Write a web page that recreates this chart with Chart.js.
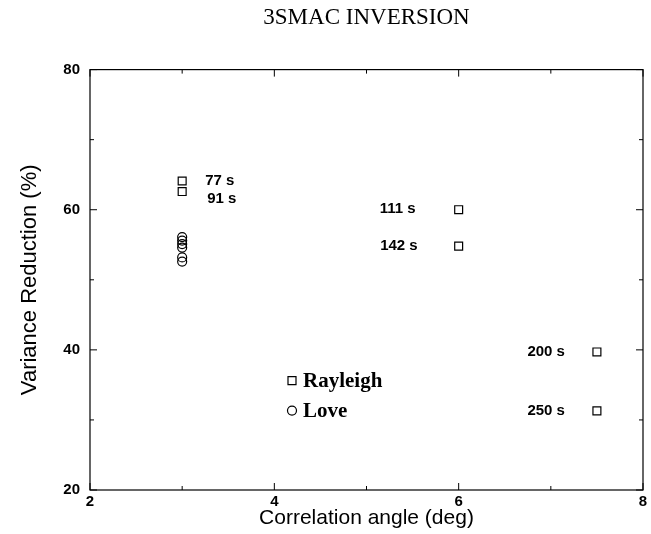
<!DOCTYPE html>
<html>
<head>
<meta charset="utf-8">
<title>3SMAC INVERSION</title>
<script src="https://cdn.jsdelivr.net/npm/chart.js@4.4.1/dist/chart.umd.min.js"></script>
<style>
  html, body { margin: 0; padding: 0; background: #fff; }
  #chart { display: block; }
</style>
</head>
<body>
<canvas id="chart" width="651" height="534"></canvas>
<script>
// ---------------------------------------------------------------------------
// Data
// ---------------------------------------------------------------------------
const rayleighAngle = [3, 3, 6, 6, 7.5, 7.5];
const rayleighVR    = [64.1, 62.6, 60.0, 54.8, 39.7, 31.3];
const rayleighTags  = ['77 s', '91 s', '111 s', '142 s', '200 s', '250 s'];

const loveAngle = [3, 3, 3, 3, 3, 3];
const loveVR    = [56.1, 55.6, 55.1, 54.6, 53.2, 52.6];

const xTicks = [2, 4, 6, 8];
const yTicks = [20, 40, 60, 80];
const xMinor = [3, 5, 7];
const yMinor = [30, 50, 70];

// where each period label sits relative to its square (px)
const tagPlacement = [
  { dx: 23, dy: 0, align: 'left' },
  { dx: 25, dy: 7, align: 'left' },
  { dx: -43, dy: -1, align: 'right' },
  { dx: -41, dy: 0, align: 'right' },
  { dx: -32, dy: 0, align: 'right' },
  { dx: -32, dy: 0, align: 'right' }
];

const toPoints = (xs, ys) => xs.map((x, i) => ({ x: x, y: ys[i] }));

// ---------------------------------------------------------------------------
// Plugins: frame with inward ticks, period labels, inset legend
// ---------------------------------------------------------------------------
const framePlugin = {
  id: 'frame',
  afterDraw(chart) {
    const { ctx, chartArea: a, scales: { x, y } } = chart;
    ctx.save();
    ctx.strokeStyle = '#000';
    ctx.lineWidth = 1.2;
    ctx.strokeRect(a.left, a.top, a.right - a.left, a.bottom - a.top);

    ctx.lineWidth = 1;
    ctx.beginPath();
    const tickX = (v, len) => {
      const px = x.getPixelForValue(v);
      ctx.moveTo(px, a.bottom); ctx.lineTo(px, a.bottom - len);
      ctx.moveTo(px, a.top);    ctx.lineTo(px, a.top + len);
    };
    const tickY = (v, len) => {
      const py = y.getPixelForValue(v);
      ctx.moveTo(a.left, py);  ctx.lineTo(a.left + len, py);
      ctx.moveTo(a.right, py); ctx.lineTo(a.right - len, py);
    };
    xTicks.forEach(v => tickX(v, 7));
    xMinor.forEach(v => tickX(v, 4));
    yTicks.forEach(v => tickY(v, 7));
    yMinor.forEach(v => tickY(v, 4));
    ctx.stroke();
    ctx.restore();
  }
};

const tagPlugin = {
  id: 'periodTags',
  afterDatasetsDraw(chart) {
    const { ctx } = chart;
    const meta = chart.getDatasetMeta(0);
    ctx.save();
    ctx.fillStyle = '#000';
    ctx.font = 'bold 15px "Liberation Sans", Arial, sans-serif';
    ctx.textBaseline = 'middle';
    meta.data.forEach((pt, i) => {
      const p = tagPlacement[i];
      ctx.textAlign = p.align;
      ctx.fillText(rayleighTags[i], pt.x + p.dx, pt.y + p.dy);
    });
    ctx.restore();
  }
};

const insetLegend = {
  id: 'insetLegend',
  afterDraw(chart) {
    const { ctx, chartArea: a } = chart;
    const x0 = a.left + 202;
    const rows = [
      { text: chart.data.datasets[0].label, y: a.top + 311, style: 'rect' },
      { text: chart.data.datasets[1].label, y: a.top + 341, style: 'circle' }
    ];
    ctx.save();
    ctx.strokeStyle = '#000';
    ctx.lineWidth = 1.2;
    ctx.fillStyle = '#000';
    ctx.font = 'bold 21px "Liberation Serif", "Times New Roman", serif';
    ctx.textBaseline = 'middle';
    ctx.textAlign = 'left';
    rows.forEach(r => {
      ctx.beginPath();
      if (r.style === 'rect') {
        ctx.rect(x0 - 4, r.y - 4, 8, 8);
      } else {
        ctx.arc(x0, r.y, 4.5, 0, Math.PI * 2);
      }
      ctx.stroke();
      ctx.fillText(r.text, x0 + 11, r.y + 1);
    });
    ctx.restore();
  }
};

// ---------------------------------------------------------------------------
// Chart
// ---------------------------------------------------------------------------
const tickFont = { family: '"Liberation Sans", Arial, sans-serif', size: 15, weight: 'bold' };

new Chart(document.getElementById('chart').getContext('2d'), {
  type: 'scatter',
  data: {
    datasets: [
      {
        label: 'Rayleigh',
        data: toPoints(rayleighAngle, rayleighVR),
        pointStyle: 'rect',
        pointRadius: 5.6,
        borderColor: '#000',
        borderWidth: 1.2,
        backgroundColor: 'rgba(0,0,0,0)'
      },
      {
        label: 'Love',
        data: toPoints(loveAngle, loveVR),
        pointStyle: 'circle',
        pointRadius: 4.5,
        borderColor: '#000',
        borderWidth: 1.2,
        backgroundColor: 'rgba(0,0,0,0)'
      }
    ]
  },
  options: {
    responsive: false,
    animation: false,
    devicePixelRatio: 1,
    layout: { padding: { top: 0, right: 8, left: 0, bottom: 0 } },
    plugins: {
      legend: { display: false },
      tooltip: { enabled: false },
      title: {
        display: true,
        text: '3SMAC INVERSION',
        fullSize: false,
        color: '#000',
        font: { family: '"Liberation Serif", "Times New Roman", serif', size: 23, weight: 'normal' },
        padding: { top: 4, bottom: 38 }
      }
    },
    scales: {
      x: {
        type: 'linear',
        min: 2,
        max: 8,
        afterFit: s => { s.height = 44; },
        afterBuildTicks: s => { s.ticks = xTicks.map(v => ({ value: v })); },
        grid: { display: false, drawTicks: false },
        border: { display: false },
        ticks: { color: '#000', font: tickFont, padding: 3, maxRotation: 0 },
        title: {
          display: true,
          text: 'Correlation angle (deg)',
          color: '#000',
          font: { family: '"Liberation Sans", Arial, sans-serif', size: 21 },
          padding: { top: 0, bottom: 3 }
        }
      },
      y: {
        type: 'linear',
        min: 20,
        max: 80,
        afterFit: s => { s.width = 90; },
        afterBuildTicks: s => { s.ticks = yTicks.map(v => ({ value: v })); },
        grid: { display: false, drawTicks: false },
        border: { display: false },
        ticks: { color: '#000', font: tickFont, padding: 10 },
        title: {
          display: true,
          text: 'Variance Reduction (%)',
          color: '#000',
          font: { family: '"Liberation Sans", Arial, sans-serif', size: 22 },
          padding: { top: 17, bottom: 0 }
        }
      }
    }
  },
  plugins: [framePlugin, tagPlugin, insetLegend]
});
</script>
</body>
</html>
